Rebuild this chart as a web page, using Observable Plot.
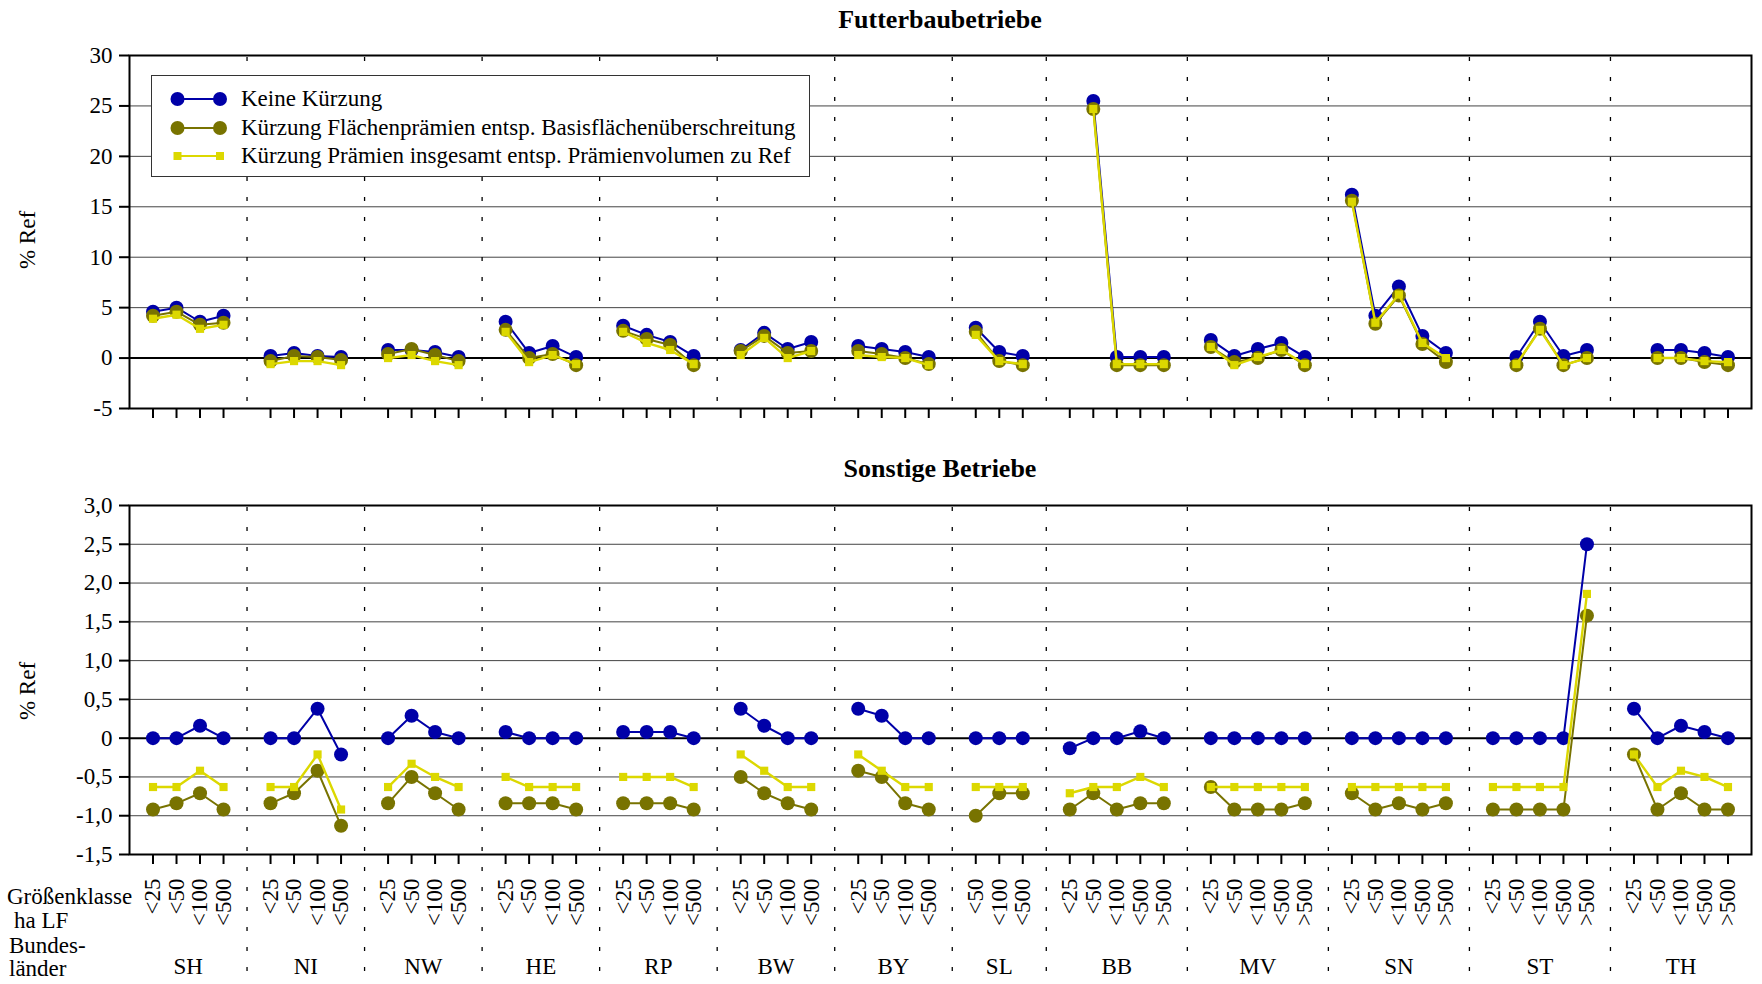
<!DOCTYPE html>
<html><head><meta charset="utf-8">
<script src="https://cdn.jsdelivr.net/npm/d3@7"></script>
<script src="https://cdn.jsdelivr.net/npm/@observablehq/plot@0.6"></script>
<style>
body{margin:0;background:#fff;}
#root{position:relative;width:1762px;height:984px;font-family:"Liberation Serif","Times New Roman",serif;color:#000;overflow:hidden;background:#fff}
.abs{position:absolute;white-space:nowrap;line-height:1}
#root > svg{position:absolute;left:0}
#root svg text{font-family:"Liberation Serif","Times New Roman",serif}
</style></head><body><div id="root"></div>
<script>
// ---------- data ----------
const states = ["SH","NI","NW","HE","RP","BW","BY","SL","BB","MV","SN","ST","TH"];
const sizeClasses = [
  ["<25","<50","<100","<500"],
  ["<25","<50","<100","<500"],
  ["<25","<50","<100","<500"],
  ["<25","<50","<100","<500"],
  ["<25","<50","<100","<500"],
  ["<25","<50","<100","<500"],
  ["<25","<50","<100","<500"],
  ["<50","<100","<500"],
  ["<25","<50","<100","<500",">500"],
  ["<25","<50","<100","<500",">500"],
  ["<25","<50","<100","<500",">500"],
  ["<25","<50","<100","<500",">500"],
  ["<25","<50","<100","<500",">500"]
];
const seriesNames = [
  "Keine Kürzung",
  "Kürzung Flächenprämien entsp. Basisflächenüberschreitung",
  "Kürzung Prämien insgesamt entsp. Prämienvolumen zu Ref"
];
const seriesColors = ["#0000a8", "#787300", "#dcd800"];

// Futterbaubetriebe (% Ref)
const futterKeine = [[4.6,5.0,3.6,4.2],[0.2,0.5,0.2,0.1],[0.8,0.8,0.6,0.1],[3.6,0.5,1.2,0.1],[3.2,2.3,1.6,0.2],[0.8,2.5,0.9,1.6],[1.2,0.9,0.6,0.1],[3.0,0.6,0.2],[null,25.5,0.1,0.1,0.1],[1.8,0.2,0.9,1.5,0.1],[16.2,4.2,7.1,2.2,0.5],[null,0.1,3.6,0.2,0.8],[null,0.8,0.8,0.5,0.1]];
const futterFlaeche = [[4.2,4.6,3.3,3.5],[-0.3,0.2,0.1,-0.2],[0.4,0.9,0.3,-0.3],[2.8,0.0,0.4,-0.7],[2.7,1.9,1.3,-0.7],[0.7,2.2,0.5,0.7],[0.7,0.4,0.0,-0.6],[2.6,-0.3,-0.7],[null,24.7,-0.7,-0.7,-0.7],[1.1,-0.4,0.0,0.8,-0.7],[15.6,3.4,6.2,1.4,-0.4],[null,-0.7,2.9,-0.7,0.0],[null,0.0,0.0,-0.4,-0.7]];
const futterGesamt = [[3.9,4.3,2.9,3.3],[-0.6,-0.3,-0.3,-0.7],[0.0,0.3,-0.3,-0.7],[2.6,-0.4,0.3,-0.6],[2.6,1.5,0.8,-0.6],[0.3,2.0,0.0,0.7],[0.3,0.1,0.0,-0.7],[2.3,-0.3,-0.6],[null,24.7,-0.6,-0.6,-0.6],[1.1,-0.7,0.1,0.8,-0.6],[15.5,3.5,6.3,1.5,0.0],[null,-0.6,2.8,-0.7,0.0],[null,0.0,0.0,-0.3,-0.4]];

// Sonstige Betriebe (% Ref)
const sonstKeine = [[0,0,0.16,0],[0,0,0.38,-0.21],[0,0.29,0.08,0],[0.08,0,0,0],[0.08,0.08,0.08,0],[0.38,0.16,0,0],[0.38,0.29,0,0],[0,0,0],[-0.13,0,0,0.09,0],[0,0,0,0,0],[0,0,0,0,0],[0,0,0,0,2.5],[0.38,0,0.16,0.08,0]];
const sonstFlaeche = [[-0.92,-0.84,-0.71,-0.92],[-0.84,-0.71,-0.42,-1.13],[-0.84,-0.5,-0.71,-0.92],[-0.84,-0.84,-0.84,-0.92],[-0.84,-0.84,-0.84,-0.92],[-0.5,-0.71,-0.84,-0.92],[-0.42,-0.5,-0.84,-0.92],[-1.0,-0.71,-0.71],[-0.92,-0.71,-0.92,-0.84,-0.84],[-0.63,-0.92,-0.92,-0.92,-0.84],[-0.71,-0.92,-0.84,-0.92,-0.84],[-0.92,-0.92,-0.92,-0.92,1.58],[-0.21,-0.92,-0.71,-0.92,-0.92]];
const sonstGesamt = [[-0.63,-0.63,-0.42,-0.63],[-0.63,-0.63,-0.21,-0.92],[-0.63,-0.33,-0.5,-0.63],[-0.5,-0.63,-0.63,-0.63],[-0.5,-0.5,-0.5,-0.63],[-0.21,-0.42,-0.63,-0.63],[-0.21,-0.42,-0.63,-0.63],[-0.63,-0.63,-0.63],[-0.71,-0.63,-0.63,-0.5,-0.63],[-0.63,-0.63,-0.63,-0.63,-0.63],[-0.63,-0.63,-0.63,-0.63,-0.63],[-0.63,-0.63,-0.63,-0.63,1.86],[-0.21,-0.63,-0.42,-0.5,-0.63]];

const futterTicks = [-5,0,5,10,15,20,25,30];
const sonstTicks = [-1.5,-1,-0.5,0,0.5,1,1.5,2,2.5,3];
const sonstTickLabels = ["-1,5","-1,0","-0,5","0","0,5","1,0","1,5","2,0","2,5","3,0"];

// ---------- layout of category slots ----------
const catSlots = [], catLabels = new Map(), sepSlots = [], groupCenters = [];
let slot = 1;
states.forEach((st, i) => {
  const start = slot;
  sizeClasses[i].forEach(c => { catSlots.push(slot); catLabels.set(slot, c); slot++; });
  groupCenters.push({name: st, x: (start + slot - 1) / 2});
  if (i < states.length - 1) { sepSlots.push(slot); slot++; }
});
const xMax = slot;

function rows(seriesArrays) {
  const out = [];
  seriesArrays.forEach((arr, k) => {
    let s = 1;
    states.forEach((st, i) => {
      sizeClasses[i].forEach((c, j) => {
        const v = arr[i][j];
        if (v !== null && v !== undefined) out.push({series: k, group: st, x: s, y: v});
        s++;
      });
      s++;
    });
  });
  return out;
}

const FONT = '"Liberation Serif","Times New Roman",serif';

function panel({data, yDomain, yTicks, yFormat, height, marginTop, marginBottom, showLabels}) {
  const marks = [
    Plot.gridY(yTicks.filter(t => t !== 0 && t !== yDomain[1] && t !== yDomain[0]), {stroke: "#444", strokeOpacity: 1, strokeWidth: 1}),
    Plot.ruleX(sepSlots, {stroke: "#000", strokeWidth: 1.3, strokeDasharray: "4,16", insetTop: 2, insetBottom: showLabels ? -130 : 0}),
    Plot.ruleY([0], {stroke: "#000", strokeWidth: 2}),
    Plot.axisY({ticks: yTicks, tickFormat: yFormat, tickSize: 10, tickPadding: 7, strokeWidth: 2, fontSize: 23, fontFamily: FONT, fontVariant: "normal", label: null}),
    Plot.axisX(catSlots, {tickSize: 10, strokeWidth: 2, fontSize: 23, fontFamily: FONT, fontVariant: "normal", label: null,
      tickFormat: showLabels ? (d => catLabels.get(d)) : (() => ""),
      tickRotate: showLabels ? -90 : 0, tickPadding: 14})
  ];
  [0, 1, 2].forEach(k => {
    const d = data.filter(r => r.series === k);
    marks.push(Plot.line(d, {x: "x", y: "y", z: "group", stroke: seriesColors[k], strokeWidth: k === 2 ? 2.4 : 2}));
    if (k === 2) marks.push(Plot.dot(d, {x: "x", y: "y", symbol: "square", r: 4.6, fill: seriesColors[k], stroke: "none"}));
    else marks.push(Plot.dot(d, {x: "x", y: "y", r: 7, fill: seriesColors[k], stroke: "none"}));
  });
  if (showLabels) marks.push(Plot.text(groupCenters, {x: "x", text: "name", frameAnchor: "bottom", dy: 119, fontSize: 23, fontFamily: FONT}));
  marks.push(Plot.frame({stroke: "#000", strokeWidth: 2}));
  return Plot.plot({
    width: 1762, height, marginLeft: 129, marginRight: 11, marginTop, marginBottom,
    x: {domain: [0, xMax]},
    y: {domain: yDomain},
    style: {fontFamily: FONT, fontSize: "23px", color: "#000", background: "transparent", overflow: "visible"},
    marks
  });
}

const root = document.getElementById("root");
const topPlot = panel({
  data: rows([futterKeine, futterFlaeche, futterGesamt]),
  yDomain: [-5, 30], yTicks: futterTicks, yFormat: d => String(d),
  height: 430, marginTop: 55, marginBottom: 22, showLabels: false
});
topPlot.style.top = "0px";
root.appendChild(topPlot);

const bottomPlot = panel({
  data: rows([sonstKeine, sonstFlaeche, sonstGesamt]),
  yDomain: [-1.5, 3], yTicks: sonstTicks, yFormat: d => sonstTickLabels[sonstTicks.indexOf(d)],
  height: 544, marginTop: 65, marginBottom: 130, showLabels: true
});
bottomPlot.style.top = "440px";
root.appendChild(bottomPlot);

function addText(txt, css) {
  const d = document.createElement("div");
  d.className = "abs";
  d.textContent = txt;
  Object.assign(d.style, css);
  root.appendChild(d);
  return d;
}
addText("Futterbaubetriebe", {left: "129px", width: "1622px", textAlign: "center", top: "7px", fontSize: "26px", fontWeight: "bold"});
addText("Sonstige Betriebe", {left: "129px", width: "1622px", textAlign: "center", top: "456px", fontSize: "26px", fontWeight: "bold"});
addText("% Ref", {left: "27px", top: "240px", fontSize: "23px", transform: "translate(-50%,-50%) rotate(-90deg)"});
addText("% Ref", {left: "27px", top: "691px", fontSize: "23px", transform: "translate(-50%,-50%) rotate(-90deg)"});
addText("Größenklasse", {left: "7px", top: "885px", fontSize: "23px"});
addText("ha LF", {left: "14px", top: "909px", fontSize: "23px"});
addText("Bundes-", {left: "9px", top: "934px", fontSize: "23px"});
addText("länder", {left: "9px", top: "957px", fontSize: "23px"});

// legend
const leg = document.createElement("div");
Object.assign(leg.style, {position: "absolute", left: "151px", top: "75px", width: "657px", height: "100px", border: "1px solid #333", background: "#fff"});
root.appendChild(leg);
const rowY = [23, 52, 80];
seriesNames.forEach((name, k) => {
  const ns = "http://www.w3.org/2000/svg";
  const s = document.createElementNS(ns, "svg");
  s.setAttribute("width", 70); s.setAttribute("height", 20);
  Object.assign(s.style, {position: "absolute", left: "15px", top: (rowY[k] - 10) + "px"});
  const ln = document.createElementNS(ns, "line");
  ln.setAttribute("x1", 10.5); ln.setAttribute("x2", 53); ln.setAttribute("y1", 10); ln.setAttribute("y2", 10);
  ln.setAttribute("stroke", seriesColors[k]); ln.setAttribute("stroke-width", 2);
  s.appendChild(ln);
  [10.5, 53].forEach(cx => {
    let m;
    if (k === 2) { m = document.createElementNS(ns, "rect"); m.setAttribute("x", cx - 4); m.setAttribute("y", 6); m.setAttribute("width", 8); m.setAttribute("height", 8); }
    else { m = document.createElementNS(ns, "circle"); m.setAttribute("cx", cx); m.setAttribute("cy", 10); m.setAttribute("r", 7); }
    m.setAttribute("fill", seriesColors[k]);
    s.appendChild(m);
  });
  leg.appendChild(s);
  const t = document.createElement("div");
  t.className = "abs"; t.textContent = name;
  Object.assign(t.style, {left: "89px", top: (rowY[k] - 12) + "px", fontSize: "23px"});
  leg.appendChild(t);
});
</script>
</body></html>
